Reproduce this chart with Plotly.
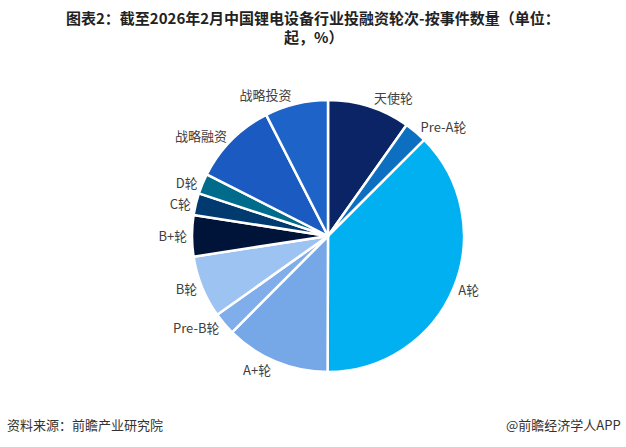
import plotly.graph_objects as go

labels = ["天使轮", "Pre-A轮", "A轮", "A+轮", "Pre-B轮", "B轮", "B+轮", "C轮", "D轮", "战略融资", "战略投资"]
values = [9.8, 2.7, 37.5, 12.4, 2.7, 7.4, 4.9, 2.6, 2.4, 10.0, 7.5]
colors = ["#0B2466", "#0C6FC0", "#00B0F0", "#76A7E7", "#80AEEA", "#9DC3F3",
          "#00143A", "#003A6F", "#006B8A", "#1B5AC0", "#1E63C8"]

W, H = 626, 447
cx, cy, r = 328, 236, 136

fig = go.Figure(go.Pie(
    labels=labels, values=values, sort=False, direction="clockwise", rotation=0,
    marker=dict(colors=colors, line=dict(color="white", width=2.5)),
    textinfo="label", textposition="outside",
    textfont=dict(family="Noto Sans CJK SC", size=13, color="#404040"),
    hoverinfo="label+percent",
    domain=dict(x=[(cx - r) / W, (cx + r) / W], y=[(H - cy - r) / H, (H - cy + r) / H]),
    showlegend=False,
))

fig.update_layout(
    width=W, height=H, margin=dict(l=0, r=0, t=0, b=0),
    paper_bgcolor="white", plot_bgcolor="white",
    font=dict(family="Noto Sans CJK SC"),
    annotations=[
        dict(text="<b>图表2：截至2026年2月中国锂电设备行业投融资轮次-按事件数量（单位：</b>",
             x=0.5, y=18, xref="paper", yref="paper", showarrow=False,
             font=dict(size=15, color="#222222")),
        dict(text="<b>起，%）</b>", x=0.5, y=36, xref="paper", yref="paper", showarrow=False,
             font=dict(size=15, color="#222222")),
        dict(text="资料来源：前瞻产业研究院", x=0.008, y=424, xref="paper", yref="paper",
             xanchor="left", showarrow=False, font=dict(size=13, color="#333333")),
        dict(text="@前瞻经济学人APP", x=0.995, y=424, xref="paper", yref="paper",
             xanchor="right", showarrow=False, font=dict(size=13, color="#333333")),
    ],
)
# convert pixel y positions to paper coords
for a in fig.layout.annotations:
    a.y = 1 - a.y / H
    a.yanchor = "middle"

fig.write_html("out.html")
